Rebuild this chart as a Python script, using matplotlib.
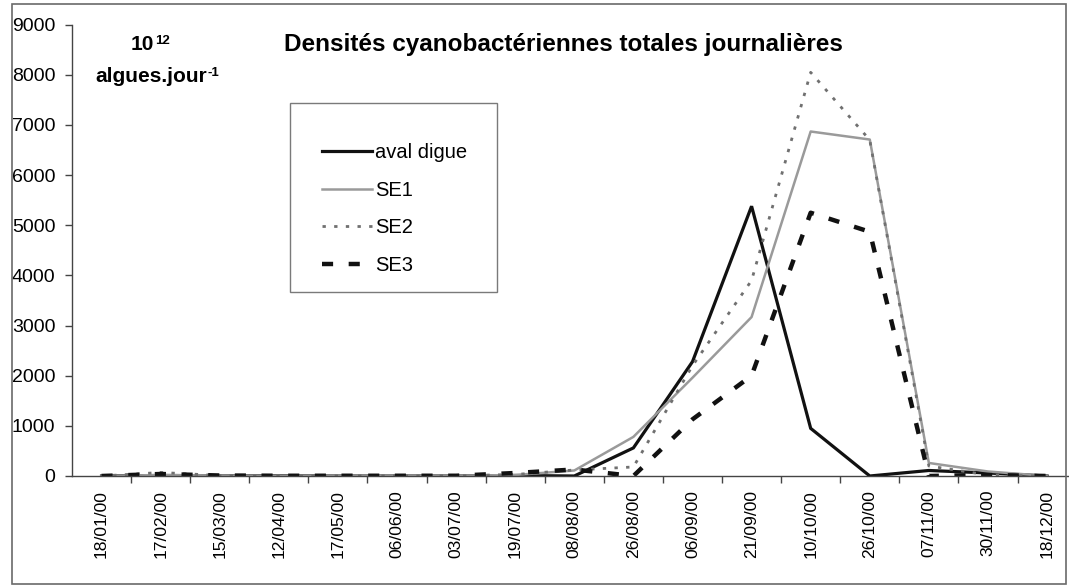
import matplotlib
matplotlib.use("Agg")
import matplotlib.pyplot as plt
from matplotlib.patches import Rectangle

plt.rcParams['font.family'] = ['Liberation Sans', 'DejaVu Sans']

# Sampling dates (category axis)
dates = ['18/01/00', '17/02/00', '15/03/00', '12/04/00', '17/05/00', '06/06/00',
         '03/07/00', '19/07/00', '08/08/00', '26/08/00', '06/09/00', '21/09/00',
         '10/10/00', '26/10/00', '07/11/00', '30/11/00', '18/12/00']

# Daily total cyanobacterial densities (10^12 algae per day)
aval_digue = [0, 10, 5, 5, 0, 0, 0, 10, 0, 560, 2280, 5380, 950, 0, 110, 60, 0]
se1 = [0, 20, 10, 5, 5, 5, 5, 20, 110, 780, 1960, 3170, 6870, 6710, 260, 90, 0]
se2 = [0, 70, 10, 5, 5, 5, 5, 30, 120, 180, 2200, 3900, 8050, 6700, 200, 20, 0]
se3 = [0, 40, 10, 5, 5, 5, 5, 60, 130, 0, 1130, 2000, 5250, 4870, 0, 20, 0]

series_labels = ['aval digue', 'SE1', 'SE2', 'SE3']
y_ticks = [0, 1000, 2000, 3000, 4000, 5000, 6000, 7000, 8000, 9000]

W, H = 1069, 588
fig = plt.figure(figsize=(W / 100, H / 100), dpi=100)
fig.patch.set_facecolor('white')

# chart area border
fig.add_artist(Rectangle((12 / W, 4 / H), (1066 - 12) / W, (584 - 4) / H,
                         transform=fig.transFigure, fill=False,
                         edgecolor='#6a6a6a', lw=1.2))

ax = fig.add_axes([72 / W, 1 - 476 / H, 1004.6 / W, 451.3 / H])
x = list(range(len(dates)))

l0, = ax.plot(x, aval_digue, color='#111111', lw=2.3, solid_joinstyle='miter')
l1, = ax.plot(x, se1, color='#9a9a9a', lw=1.8)
l2, = ax.plot(x, se2, color='#707070', lw=2.0, linestyle=(0, (1.2, 3.0)))
l3, = ax.plot(x, se3, color='#111111', lw=3.2, linestyle=(0, (2.5, 3.5)))

ax.set_xlim(-0.5, len(dates) - 0.5)
ax.set_ylim(0, 9000)
ax.set_yticks(y_ticks)
ax.set_yticklabels([str(v) for v in y_ticks], fontsize=14)
ax.set_xticks(x)
ax.set_xticklabels(dates, rotation=90, fontsize=12.6)
ax.set_xticks([i + 0.5 for i in x], minor=True)
ax.tick_params(axis='x', which='major', length=0, pad=10)
ax.tick_params(axis='x', which='minor', length=5, width=1, color='#444444', direction='out')
ax.tick_params(axis='y', length=5, width=1, color='#444444', direction='out', pad=7)

for s in ['top', 'right']:
    ax.spines[s].set_visible(False)
for s in ['left', 'bottom']:
    ax.spines[s].set_color('#444444')
    ax.spines[s].set_linewidth(1.0)

# legend box frame and entries
def fx(px):
    return (px - 72) / 1004.6

def fy(py):
    return (476 - py) / 451.3

ax.add_patch(Rectangle((fx(290), fy(292)), fx(497) - fx(290), fy(103) - fy(292),
                       transform=ax.transAxes, fill=False, edgecolor='#7a7a7a',
                       lw=1.0, zorder=5))
leg = ax.legend([l0, l1, l2, l3], series_labels, loc='upper left',
                bbox_to_anchor=(fx(322), fy(143)), frameon=False,
                fontsize=14.5, handlelength=2.5, handletextpad=0.15,
                labelspacing=0.93, borderpad=0, borderaxespad=0)

fig.text(563 / W, 1 - 45 / H, 'Densités cyanobactériennes totales journalières',
         ha='center', va='center', fontsize=17.5, fontweight='bold')

# unit label with small superscripts
fig.canvas.draw()
renderer = fig.canvas.get_renderer()

def with_superscript(xc, yc, base, sup, size, sup_size, gap):
    probe = fig.text(0, 0, sup, fontsize=sup_size, fontweight='bold')
    sw = probe.get_window_extent(renderer).width
    probe.remove()
    t = fig.text((xc - sw / 2) / W, 1 - yc / H, base, ha='center', va='center',
                 fontsize=size, fontweight='bold')
    bb = t.get_window_extent(renderer)
    fig.text((bb.x1 + gap) / W, bb.y1 / H, sup, ha='left', va='top',
             fontsize=sup_size, fontweight='bold')

with_superscript(150, 45, '10', '12', 15, 9.5, 0.5)
with_superscript(157, 77, 'algues.jour', '-1', 15, 9.5, 0.5)

fig.savefig('out.png', dpi=100)
